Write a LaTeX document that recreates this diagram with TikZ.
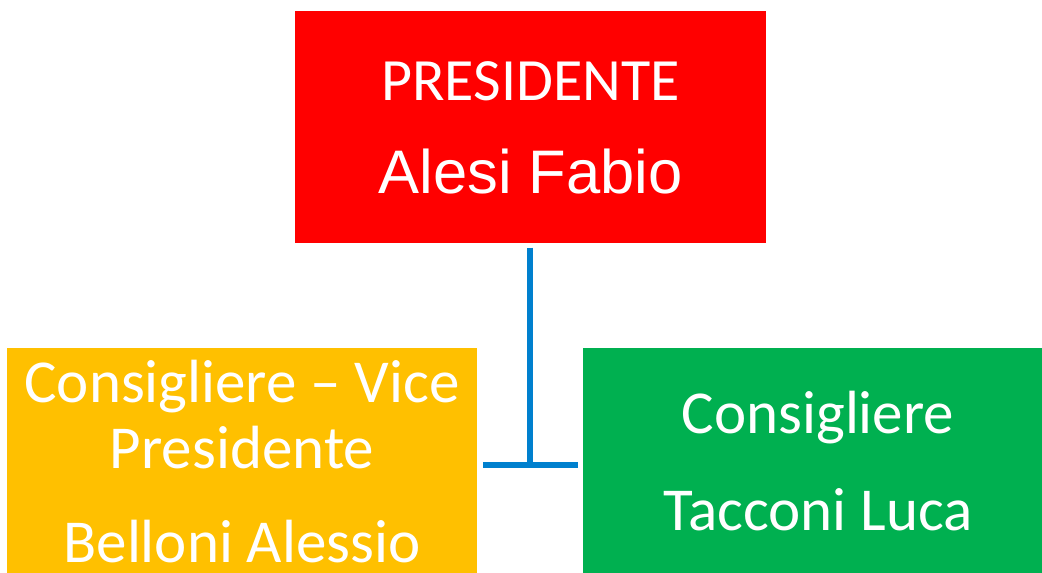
\documentclass[tikz,border=0pt]{standalone}
\usepackage{fontspec}
\setmainfont{Carlito}
\newfontfamily\arialfont{Liberation Sans}
\definecolor{boxred}{RGB}{255,0,0}
\definecolor{boxorange}{RGB}{255,192,0}
\definecolor{boxgreen}{RGB}{0,176,80}
\definecolor{connblue}{RGB}{0,128,206}
\tikzset{
  box/.style={draw=none, inner sep=0pt, minimum width=471pt, minimum height=232pt},
  lbl/.style={text=white, inner sep=0pt, anchor=base, font=\fontsize{61}{72}\selectfont},
  conn/.style={draw=connblue, line width=5.5pt}
}
\begin{document}
\begin{tikzpicture}[x=1pt,y=-1pt]
\useasboundingbox (0,0) rectangle (1042,573);
\clip (0,0) rectangle (1042,573);
\fill[white] (0,0) rectangle (1042,573);
\node[box, fill=boxred] (pres) at (530.5,126.5) {};
\node[box, fill=boxorange, minimum width=470pt, minimum height=231pt] (vice) at (242,463.5) {};
\node[box, fill=boxgreen, minimum width=470pt, minimum height=231pt] (cons) at (818,463.5) {};
\node[lbl, font=\fontsize{60}{72}\selectfont] (t1) at (530.5,100) {PRESIDENTE};
\node[lbl, font=\arialfont\fontsize{61.5}{72}\selectfont] (t2) at (530.5,193) {Alesi Fabio};
\node[lbl] (t3) at (242,402) {Consigliere – Vice};
\node[lbl] (t4) at (242,468) {Presidente};
\node[lbl] (t5) at (242,562) {Belloni Alessio};
\node[lbl] (t6) at (818,433) {Consigliere};
\node[lbl] (t7) at (818,530) {Tacconi Luca};
\coordinate (j) at (530,465);
\draw[conn] ([yshift=-5pt]pres.south -| j) -- (j);
\draw[conn] ([xshift=6pt]vice.east |- j) -- ([xshift=-5pt]cons.west |- j);
\end{tikzpicture}
\end{document}
